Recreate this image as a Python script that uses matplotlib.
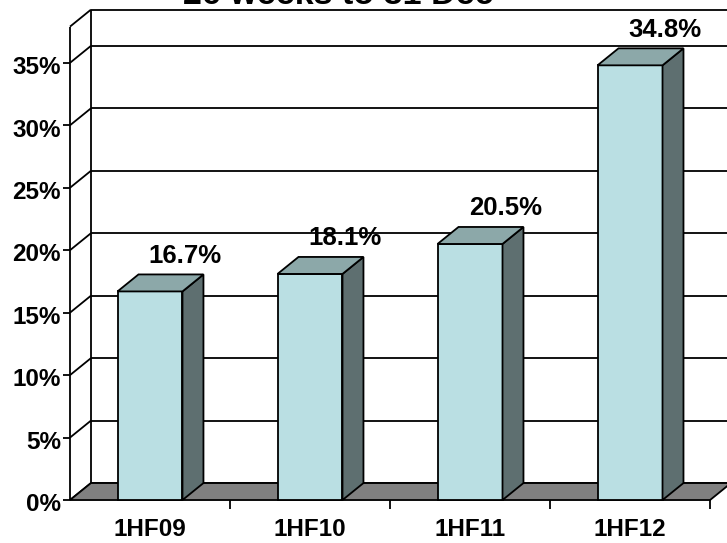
# 3D-style bar chart, Excel look
import matplotlib.pyplot as plt
from matplotlib.patches import Polygon

categories = ['1HF09', '1HF10', '1HF11', '1HF12']
values = [16.7, 18.1, 20.5, 34.8]
y_ticks = [0, 5, 10, 15, 20, 25, 30, 35]
title = '26 weeks to 31 Dec'

front_col = '#BADFE3'
top_col = '#8CA8A9'
side_col = '#5E6F70'
floor_col = '#808080'

fig = plt.figure(figsize=(7.27, 5.43), dpi=100)
ax = fig.add_axes([0, 0, 1, 1])
ax.set_xlim(-0.9375, 3.606)
ax.set_ylim(-3.44, 40.03)
ax.axis('off')

# depth offset of the 3d box
dx, dy = 0.131, 1.36
x0, x1 = -0.5, len(categories) - 0.5
ytop = 37.9
lw = 1.3

def line(xs, ys, z=2):
    ax.plot(xs, ys, color='black', lw=lw, zorder=z, solid_capstyle='butt')

# walls
line([x0, x0], [0, ytop])
line([x0 + dx, x0 + dx], [dy, ytop + dy])
line([x0, x0 + dx], [ytop, ytop + dy])
line([x0 + dx, x1 + dx], [ytop + dy, ytop + dy])

# gridlines + y ticks
for t in y_ticks:
    line([x0, x0 + dx], [t, t + dy])
    line([x0 + dx, x1 + dx], [t + dy, t + dy])
    line([x0 - 0.045, x0], [t, t])
    ax.text(x0 - 0.056, t - 0.9, f'{t}%', ha='right', va='baseline',
            fontsize=17.5, fontweight='bold', family='Liberation Sans')

# floor
ax.add_patch(Polygon([(x0, 0), (x1, 0), (x1 + dx, dy), (x0 + dx, dy)],
                     closed=True, fc=floor_col, ec='black', lw=lw, zorder=3))

# x ticks and labels
for i, c in enumerate(categories):
    line([i + 0.5, i + 0.5], [0, -0.72], z=3)
    ax.text(i, -2.88, c, ha='center', va='baseline',
            fontsize=17.5, fontweight='bold', family='Liberation Sans')

# bars
w = 0.406
for i, v in enumerate(values):
    l, r = i - w / 2, i + w / 2
    ax.add_patch(Polygon([(l, 0), (r, 0), (r, v), (l, v)], closed=True,
                         fc=front_col, ec='black', lw=lw, zorder=4))
    ax.add_patch(Polygon([(r, 0), (r + dx, dy), (r + dx, v + dy), (r, v)], closed=True,
                         fc=side_col, ec='black', lw=lw, zorder=4))
    ax.add_patch(Polygon([(l, v), (r, v), (r + dx, v + dy), (l + dx, v + dy)], closed=True,
                         fc=top_col, ec='black', lw=lw, zorder=4))
    ax.text(i + 0.22, v + 2.3, f'{v}%', ha='center', va='baseline', zorder=5,
            fontsize=18.5, fontweight='bold', family='Liberation Sans')

# title, cut off at the top like the original
fig.text(0.465, 1 - 4 / 543, title, ha='center', va='baseline',
         fontsize=24.5, fontweight='bold', family='Liberation Sans')

fig.savefig('out.png', dpi=100)
